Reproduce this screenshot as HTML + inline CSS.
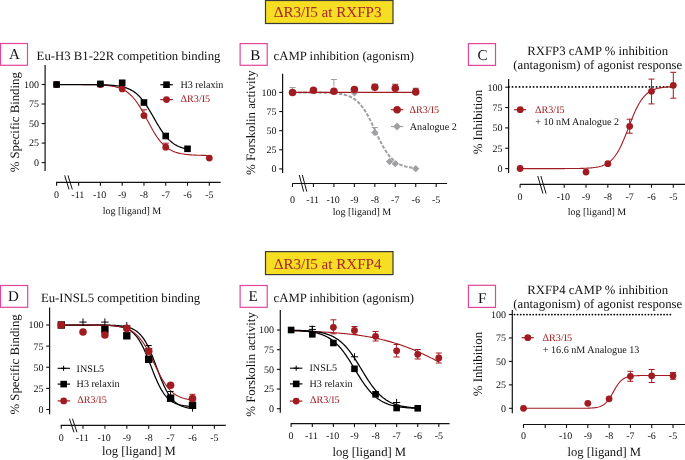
<!DOCTYPE html>
<html><head><meta charset="utf-8"><style>
html,body{margin:0;padding:0;background:#fff;width:685px;height:460px;overflow:hidden}
svg{display:block;will-change:transform}
text{font-family:"Liberation Serif",serif;text-rendering:geometricPrecision}
</style></head><body>
<svg width="685" height="460" viewBox="0 0 685 460" font-family="&quot;Liberation Serif&quot;, serif">
<rect width="685" height="460" fill="#fff"/>
<rect x="265.5" y="0.5" width="127.5" height="23.0" fill="#f6de22" stroke="#3a3a3a" stroke-width="1.2"/>
<text x="273.70" y="17.00" font-size="15.1" text-anchor="start" fill="#a8262a" >ΔR3/I5 at RXFP3</text>
<rect x="265.5" y="251.6" width="127.5" height="23.00000000000003" fill="#f6de22" stroke="#3a3a3a" stroke-width="1.2"/>
<text x="273.70" y="268.80" font-size="15.1" text-anchor="start" fill="#a8262a" >ΔR3/I5 at RXFP4</text>
<rect x="0.5" y="43.5" width="27.0" height="21.799999999999997" fill="none" stroke="#e2459a" stroke-width="1.2"/>
<text x="14.50" y="58.60" font-size="15" text-anchor="middle" fill="#111" >A</text>
<text x="36.60" y="60.00" font-size="12.75" text-anchor="start" fill="#111" >Eu-H3 B1-22R competition binding</text>
<line x1="45.10" y1="65.00" x2="45.10" y2="171.00" stroke="#111" stroke-width="1.2" />
<line x1="41.70" y1="162.60" x2="45.10" y2="162.60" stroke="#111" stroke-width="1.1" />
<text x="38.90" y="166.00" font-size="10" text-anchor="end" fill="#111" >0</text>
<line x1="41.70" y1="143.07" x2="45.10" y2="143.07" stroke="#111" stroke-width="1.1" />
<text x="38.90" y="146.47" font-size="10" text-anchor="end" fill="#111" >25</text>
<line x1="41.70" y1="123.55" x2="45.10" y2="123.55" stroke="#111" stroke-width="1.1" />
<text x="38.90" y="126.95" font-size="10" text-anchor="end" fill="#111" >50</text>
<line x1="41.70" y1="104.02" x2="45.10" y2="104.02" stroke="#111" stroke-width="1.1" />
<text x="38.90" y="107.42" font-size="10" text-anchor="end" fill="#111" >75</text>
<line x1="41.70" y1="84.50" x2="45.10" y2="84.50" stroke="#111" stroke-width="1.1" />
<text x="38.90" y="87.90" font-size="10" text-anchor="end" fill="#111" >100</text>
<line x1="56.00" y1="182.30" x2="220.70" y2="182.30" stroke="#111" stroke-width="1.2" />
<line x1="56.60" y1="182.30" x2="56.60" y2="185.70" stroke="#111" stroke-width="1.1" />
<text x="56.60" y="197.80" font-size="10" text-anchor="middle" fill="#111" >0</text>
<line x1="78.62" y1="182.30" x2="78.62" y2="185.70" stroke="#111" stroke-width="1.1" />
<text x="77.82" y="197.80" font-size="10" text-anchor="middle" fill="#111" >-11</text>
<line x1="100.40" y1="182.30" x2="100.40" y2="185.70" stroke="#111" stroke-width="1.1" />
<text x="99.60" y="197.80" font-size="10" text-anchor="middle" fill="#111" >-10</text>
<line x1="122.18" y1="182.30" x2="122.18" y2="185.70" stroke="#111" stroke-width="1.1" />
<text x="122.18" y="197.80" font-size="10" text-anchor="middle" fill="#111" >-9</text>
<line x1="143.96" y1="182.30" x2="143.96" y2="185.70" stroke="#111" stroke-width="1.1" />
<text x="143.96" y="197.80" font-size="10" text-anchor="middle" fill="#111" >-8</text>
<line x1="165.74" y1="182.30" x2="165.74" y2="185.70" stroke="#111" stroke-width="1.1" />
<text x="165.74" y="197.80" font-size="10" text-anchor="middle" fill="#111" >-7</text>
<line x1="187.52" y1="182.30" x2="187.52" y2="185.70" stroke="#111" stroke-width="1.1" />
<text x="187.52" y="197.80" font-size="10" text-anchor="middle" fill="#111" >-6</text>
<line x1="209.30" y1="182.30" x2="209.30" y2="185.70" stroke="#111" stroke-width="1.1" />
<text x="209.30" y="197.80" font-size="10" text-anchor="middle" fill="#111" >-5</text>
<line x1="64.66" y1="175.35" x2="69.04" y2="189.45" stroke="#111" stroke-width="1.0" />
<line x1="67.96" y1="175.35" x2="72.34" y2="189.45" stroke="#111" stroke-width="1.0" />
<text x="132.00" y="214.10" font-size="10" text-anchor="middle" fill="#111" >log [ligand] M</text>
<text transform="translate(19.2,122.25) rotate(-90)" font-size="12.8" text-anchor="middle" fill="#111">% Specific Binding</text>
<polyline points="56.84,84.51 57.79,84.51 58.75,84.51 59.70,84.51 60.65,84.51 61.60,84.51 62.56,84.51 63.51,84.51 64.46,84.51 65.42,84.51 66.37,84.51 67.32,84.52 68.27,84.52 69.23,84.52 70.18,84.52 71.13,84.52 72.09,84.53 73.04,84.53 73.99,84.53 74.94,84.53 75.90,84.54 76.85,84.54 77.80,84.55 78.76,84.55 79.71,84.56 80.66,84.56 81.61,84.57 82.57,84.58 83.52,84.58 84.47,84.59 85.43,84.60 86.38,84.61 87.33,84.63 88.28,84.64 89.24,84.65 90.19,84.67 91.14,84.69 92.10,84.71 93.05,84.73 94.00,84.75 94.96,84.78 95.91,84.81 96.86,84.84 97.81,84.88 98.77,84.92 99.72,84.97 100.67,85.01 101.63,85.07 102.58,85.13 103.53,85.19 104.48,85.27 105.44,85.35 106.39,85.44 107.34,85.53 108.30,85.64 109.25,85.76 110.20,85.89 111.15,86.03 112.11,86.19 113.06,86.37 114.01,86.56 114.97,86.77 115.92,87.00 116.87,87.26 117.82,87.54 118.78,87.85 119.73,88.18 120.68,88.55 121.64,88.95 122.59,89.39 123.54,89.87 124.49,90.39 125.45,90.96 126.40,91.58 127.35,92.25 128.31,92.97 129.26,93.75 130.21,94.59 131.16,95.50 132.12,96.46 133.07,97.50 134.02,98.60 134.98,99.78 135.93,101.02 136.88,102.33 137.83,103.71 138.79,105.16 139.74,106.66 140.69,108.23 141.65,109.85 142.60,111.51 143.55,113.22 144.50,114.96 145.46,116.72 146.41,118.50 147.36,120.29 148.32,122.08 149.27,123.86 150.22,125.61 151.17,127.34 152.13,129.04 153.08,130.69 154.03,132.30 154.99,133.84 155.94,135.33 156.89,136.76 157.84,138.12 158.80,139.41 159.75,140.64 160.70,141.79 161.66,142.87 162.61,143.89 163.56,144.84 164.51,145.73 165.47,146.55 166.42,147.31 167.37,148.02 168.33,148.67 169.28,149.28 170.23,149.83 171.19,150.34 172.14,150.81 173.09,151.24 174.04,151.63 175.00,151.99 175.95,152.32 176.90,152.61 177.86,152.89 178.81,153.14 179.76,153.36 180.71,153.57 181.67,153.75 182.62,153.92 183.57,154.08 184.53,154.22 185.48,154.35 186.43,154.46 187.38,154.57 188.34,154.66 189.29,154.75 190.24,154.83 191.20,154.90 192.15,154.96 193.10,155.02 194.05,155.07 195.01,155.12 195.96,155.16 196.91,155.20 197.87,155.24 198.82,155.27 199.77,155.30 200.72,155.32 201.68,155.35 202.63,155.37 203.58,155.39 204.54,155.41 205.49,155.42 206.44,155.44 207.39,155.45 208.35,155.46 209.30,155.47" fill="none" stroke="#a11c20" stroke-width="1.1"/>
<polyline points="56.84,84.50 57.66,84.50 58.47,84.50 59.29,84.50 60.11,84.50 60.92,84.50 61.74,84.50 62.56,84.50 63.37,84.50 64.19,84.51 65.01,84.51 65.82,84.51 66.64,84.51 67.46,84.51 68.27,84.51 69.09,84.51 69.91,84.51 70.72,84.51 71.54,84.51 72.36,84.51 73.18,84.51 73.99,84.51 74.81,84.52 75.63,84.52 76.44,84.52 77.26,84.52 78.08,84.52 78.89,84.52 79.71,84.53 80.53,84.53 81.34,84.53 82.16,84.53 82.98,84.54 83.79,84.54 84.61,84.54 85.43,84.55 86.24,84.55 87.06,84.56 87.88,84.56 88.69,84.57 89.51,84.57 90.33,84.58 91.14,84.59 91.96,84.60 92.78,84.61 93.59,84.61 94.41,84.62 95.23,84.64 96.04,84.65 96.86,84.66 97.68,84.68 98.49,84.69 99.31,84.71 100.13,84.73 100.94,84.75 101.76,84.77 102.58,84.80 103.39,84.82 104.21,84.85 105.03,84.88 105.84,84.92 106.66,84.95 107.48,84.99 108.30,85.04 109.11,85.09 109.93,85.14 110.75,85.20 111.56,85.26 112.38,85.33 113.20,85.40 114.01,85.48 114.83,85.57 115.65,85.66 116.46,85.76 117.28,85.87 118.10,86.00 118.91,86.13 119.73,86.27 120.55,86.42 121.36,86.59 122.18,86.77 123.00,86.97 123.81,87.19 124.63,87.42 125.45,87.67 126.26,87.94 127.08,88.23 127.90,88.55 128.71,88.89 129.53,89.26 130.35,89.65 131.16,90.08 131.98,90.53 132.80,91.03 133.61,91.55 134.43,92.11 135.25,92.72 136.06,93.36 136.88,94.04 137.70,94.77 138.52,95.54 139.33,96.36 140.15,97.22 140.97,98.14 141.78,99.10 142.60,100.10 143.42,101.16 144.23,102.26 145.05,103.40 145.87,104.59 146.68,105.82 147.50,107.09 148.32,108.39 149.13,109.73 149.95,111.09 150.77,112.48 151.58,113.89 152.40,115.31 153.22,116.74 154.03,118.17 154.85,119.60 155.67,121.02 156.48,122.44 157.30,123.83 158.12,125.20 158.93,126.55 159.75,127.86 160.57,129.14 161.38,130.39 162.20,131.59 163.02,132.75 163.83,133.87 164.65,134.94 165.47,135.96 166.28,136.93 167.10,137.86 167.92,138.74 168.73,139.58 169.55,140.36 170.37,141.10 171.19,141.80 172.00,142.46 172.82,143.07 173.64,143.65 174.45,144.19 175.27,144.69 176.09,145.16 176.90,145.59 177.72,146.00 178.54,146.38 179.35,146.73 180.17,147.05 180.99,147.35 181.80,147.63 182.62,147.89 183.44,148.12 184.25,148.34 185.07,148.55 185.89,148.73 186.70,148.91 187.52,149.07" fill="none" stroke="#000" stroke-width="1.25"/>
<line x1="143.96" y1="109.80" x2="143.96" y2="116.80" stroke="#a11c20" stroke-width="1.0" />
<line x1="140.96" y1="109.80" x2="146.96" y2="109.80" stroke="#a11c20" stroke-width="1.0" />
<line x1="165.74" y1="143.20" x2="165.74" y2="150.20" stroke="#a11c20" stroke-width="1.0" />
<line x1="162.74" y1="143.20" x2="168.74" y2="143.20" stroke="#a11c20" stroke-width="1.0" />
<circle cx="56.60" cy="84.50" r="3.4" fill="#a11c20"/>
<circle cx="100.40" cy="84.50" r="3.4" fill="#a11c20"/>
<circle cx="122.18" cy="88.90" r="3.4" fill="#a11c20"/>
<circle cx="143.96" cy="115.60" r="3.4" fill="#a11c20"/>
<circle cx="165.74" cy="147.20" r="3.4" fill="#a11c20"/>
<circle cx="209.30" cy="158.10" r="3.4" fill="#a11c20"/>
<rect x="53.30" y="81.20" width="6.6" height="6.6" fill="#000"/>
<rect x="97.10" y="80.60" width="6.6" height="6.6" fill="#000"/>
<rect x="118.88" y="79.50" width="6.6" height="6.6" fill="#000"/>
<rect x="140.66" y="99.20" width="6.6" height="6.6" fill="#000"/>
<rect x="162.44" y="132.70" width="6.6" height="6.6" fill="#000"/>
<rect x="184.22" y="145.50" width="6.6" height="6.6" fill="#000"/>
<line x1="160.30" y1="84.70" x2="172.80" y2="84.70" stroke="#000" stroke-width="1.2" />
<rect x="163.20" y="81.40" width="6.6" height="6.6" fill="#000"/>
<text x="180.40" y="88.00" font-size="10.15" text-anchor="start" fill="#111" >H3 relaxin</text>
<line x1="160.30" y1="99.60" x2="172.80" y2="99.60" stroke="#a11c20" stroke-width="1.2" />
<circle cx="166.50" cy="99.60" r="3.4" fill="#a11c20"/>
<text x="180.60" y="101.90" font-size="10.15" text-anchor="start" fill="#a11c20" >ΔR3/I5</text>
<rect x="240.1" y="43.6" width="27.099999999999994" height="21.699999999999996" fill="none" stroke="#e2459a" stroke-width="1.2"/>
<text x="255.30" y="59.60" font-size="15" text-anchor="middle" fill="#111" >B</text>
<text x="273.60" y="60.40" font-size="12.75" text-anchor="start" fill="#111" >cAMP inhibition (agonism)</text>
<line x1="282.60" y1="73.80" x2="282.60" y2="173.00" stroke="#111" stroke-width="1.2" />
<line x1="279.20" y1="168.90" x2="282.60" y2="168.90" stroke="#111" stroke-width="1.1" />
<text x="276.40" y="172.30" font-size="10" text-anchor="end" fill="#111" >0</text>
<line x1="279.20" y1="149.78" x2="282.60" y2="149.78" stroke="#111" stroke-width="1.1" />
<text x="276.40" y="153.18" font-size="10" text-anchor="end" fill="#111" >25</text>
<line x1="279.20" y1="130.65" x2="282.60" y2="130.65" stroke="#111" stroke-width="1.1" />
<text x="276.40" y="134.05" font-size="10" text-anchor="end" fill="#111" >50</text>
<line x1="279.20" y1="111.53" x2="282.60" y2="111.53" stroke="#111" stroke-width="1.1" />
<text x="276.40" y="114.93" font-size="10" text-anchor="end" fill="#111" >75</text>
<line x1="279.20" y1="92.40" x2="282.60" y2="92.40" stroke="#111" stroke-width="1.1" />
<text x="276.40" y="95.80" font-size="10" text-anchor="end" fill="#111" >100</text>
<line x1="292.30" y1="183.50" x2="447.10" y2="183.50" stroke="#111" stroke-width="1.2" />
<line x1="292.50" y1="183.50" x2="292.50" y2="186.90" stroke="#111" stroke-width="1.1" />
<text x="292.50" y="202.70" font-size="10" text-anchor="middle" fill="#111" >0</text>
<line x1="313.44" y1="183.50" x2="313.44" y2="186.90" stroke="#111" stroke-width="1.1" />
<text x="312.64" y="202.70" font-size="10" text-anchor="middle" fill="#111" >-11</text>
<line x1="333.90" y1="183.50" x2="333.90" y2="186.90" stroke="#111" stroke-width="1.1" />
<text x="333.10" y="202.70" font-size="10" text-anchor="middle" fill="#111" >-10</text>
<line x1="354.36" y1="183.50" x2="354.36" y2="186.90" stroke="#111" stroke-width="1.1" />
<text x="354.36" y="202.70" font-size="10" text-anchor="middle" fill="#111" >-9</text>
<line x1="374.82" y1="183.50" x2="374.82" y2="186.90" stroke="#111" stroke-width="1.1" />
<text x="374.82" y="202.70" font-size="10" text-anchor="middle" fill="#111" >-8</text>
<line x1="395.28" y1="183.50" x2="395.28" y2="186.90" stroke="#111" stroke-width="1.1" />
<text x="395.28" y="202.70" font-size="10" text-anchor="middle" fill="#111" >-7</text>
<line x1="415.74" y1="183.50" x2="415.74" y2="186.90" stroke="#111" stroke-width="1.1" />
<text x="415.74" y="202.70" font-size="10" text-anchor="middle" fill="#111" >-6</text>
<line x1="436.20" y1="183.50" x2="436.20" y2="186.90" stroke="#111" stroke-width="1.1" />
<text x="436.20" y="202.70" font-size="10" text-anchor="middle" fill="#111" >-5</text>
<line x1="299.25" y1="175.00" x2="303.65" y2="191.60" stroke="#111" stroke-width="1.0" />
<line x1="302.35" y1="175.00" x2="306.75" y2="191.60" stroke="#111" stroke-width="1.0" />
<text x="362.00" y="214.80" font-size="10" text-anchor="middle" fill="#111" >log [ligand] M</text>
<text transform="translate(255.4,122.7) rotate(-90)" font-size="12.8" text-anchor="middle" fill="#111">% Forskolin activity</text>
<polyline points="292.98,92.41 293.75,92.41 294.51,92.41 295.28,92.41 296.05,92.41 296.82,92.41 297.58,92.41 298.35,92.41 299.12,92.41 299.89,92.42 300.65,92.42 301.42,92.42 302.19,92.42 302.95,92.42 303.72,92.42 304.49,92.43 305.26,92.43 306.02,92.43 306.79,92.43 307.56,92.44 308.32,92.44 309.09,92.44 309.86,92.45 310.63,92.45 311.39,92.46 312.16,92.46 312.93,92.47 313.70,92.48 314.46,92.48 315.23,92.49 316.00,92.50 316.76,92.51 317.53,92.52 318.30,92.53 319.07,92.54 319.83,92.55 320.60,92.56 321.37,92.58 322.14,92.59 322.90,92.61 323.67,92.63 324.44,92.65 325.20,92.67 325.97,92.70 326.74,92.72 327.51,92.75 328.27,92.79 329.04,92.82 329.81,92.86 330.58,92.90 331.34,92.94 332.11,92.99 332.88,93.05 333.64,93.10 334.41,93.17 335.18,93.23 335.95,93.31 336.71,93.39 337.48,93.48 338.25,93.57 339.01,93.68 339.78,93.79 340.55,93.91 341.32,94.05 342.08,94.19 342.85,94.35 343.62,94.52 344.39,94.71 345.15,94.91 345.92,95.13 346.69,95.36 347.45,95.62 348.22,95.89 348.99,96.19 349.76,96.52 350.52,96.87 351.29,97.24 352.06,97.65 352.83,98.09 353.59,98.56 354.36,99.07 355.13,99.61 355.89,100.20 356.66,100.82 357.43,101.49 358.20,102.21 358.96,102.97 359.73,103.78 360.50,104.64 361.27,105.56 362.03,106.53 362.80,107.55 363.57,108.62 364.33,109.75 365.10,110.94 365.87,112.18 366.64,113.47 367.40,114.82 368.17,116.21 368.94,117.65 369.70,119.13 370.47,120.65 371.24,122.20 372.01,123.79 372.77,125.40 373.54,127.03 374.31,128.67 375.08,130.32 375.84,131.97 376.61,133.62 377.38,135.25 378.14,136.87 378.91,138.47 379.68,140.03 380.45,141.57 381.21,143.07 381.98,144.52 382.75,145.93 383.52,147.30 384.28,148.61 385.05,149.87 385.82,151.08 386.58,152.23 387.35,153.33 388.12,154.37 388.89,155.36 389.65,156.30 390.42,157.18 391.19,158.01 391.96,158.79 392.72,159.53 393.49,160.21 394.26,160.86 395.02,161.46 395.79,162.02 396.56,162.54 397.33,163.03 398.09,163.48 398.86,163.90 399.63,164.29 400.39,164.65 401.16,164.98 401.93,165.29 402.70,165.57 403.46,165.84 404.23,166.08 405.00,166.31 405.77,166.52 406.53,166.71 407.30,166.88 408.07,167.05 408.83,167.20 409.60,167.33 410.37,167.46 411.14,167.58 411.90,167.69 412.67,167.78 413.44,167.88 414.21,167.96 414.97,168.04 415.74,168.11" fill="none" stroke="#a0a0a4" stroke-width="2.0" stroke-dasharray="3.6,1.5"/>
<line x1="292.50" y1="92.40" x2="415.74" y2="92.40" stroke="#a11c20" stroke-width="1.15" />
<line x1="292.50" y1="87.50" x2="292.50" y2="94.50" stroke="#a0a0a4" stroke-width="1.0" />
<line x1="289.50" y1="87.50" x2="295.50" y2="87.50" stroke="#a0a0a4" stroke-width="1.0" />
<line x1="333.90" y1="79.50" x2="333.90" y2="86.50" stroke="#a0a0a4" stroke-width="1.0" />
<line x1="330.90" y1="79.50" x2="336.90" y2="79.50" stroke="#a0a0a4" stroke-width="1.0" />
<line x1="374.82" y1="127.50" x2="374.82" y2="134.50" stroke="#a0a0a4" stroke-width="1.0" />
<line x1="371.82" y1="127.50" x2="377.82" y2="127.50" stroke="#a0a0a4" stroke-width="1.0" />
<path d="M354.36 89.40L357.96 93.00L354.36 96.60L350.76 93.00Z" fill="#a0a0a4"/>
<path d="M374.82 129.00L378.42 132.60L374.82 136.20L371.22 132.60Z" fill="#a0a0a4"/>
<path d="M389.55 158.00L393.15 161.60L389.55 165.20L385.95 161.60Z" fill="#a0a0a4"/>
<path d="M395.28 160.10L398.88 163.70L395.28 167.30L391.68 163.70Z" fill="#a0a0a4"/>
<path d="M415.74 165.10L419.34 168.70L415.74 172.30L412.14 168.70Z" fill="#a0a0a4"/>
<line x1="374.82" y1="84.30" x2="374.82" y2="91.30" stroke="#a11c20" stroke-width="1.0" />
<line x1="371.82" y1="84.30" x2="377.82" y2="84.30" stroke="#a11c20" stroke-width="1.0" />
<line x1="395.28" y1="84.30" x2="395.28" y2="91.30" stroke="#a11c20" stroke-width="1.0" />
<line x1="392.28" y1="84.30" x2="398.28" y2="84.30" stroke="#a11c20" stroke-width="1.0" />
<line x1="415.74" y1="88.30" x2="415.74" y2="95.30" stroke="#a11c20" stroke-width="1.0" />
<line x1="412.74" y1="88.30" x2="418.74" y2="88.30" stroke="#a11c20" stroke-width="1.0" />
<circle cx="292.50" cy="92.40" r="3.75" fill="#a11c20"/>
<circle cx="313.44" cy="90.30" r="3.75" fill="#a11c20"/>
<circle cx="333.90" cy="91.30" r="3.75" fill="#a11c20"/>
<circle cx="354.36" cy="89.40" r="3.75" fill="#a11c20"/>
<circle cx="374.82" cy="87.30" r="3.75" fill="#a11c20"/>
<circle cx="395.28" cy="88.30" r="3.75" fill="#a11c20"/>
<circle cx="415.74" cy="92.00" r="3.75" fill="#a11c20"/>
<line x1="390.90" y1="109.70" x2="403.20" y2="109.70" stroke="#a11c20" stroke-width="1.2" />
<circle cx="397.10" cy="109.70" r="3.75" fill="#a11c20"/>
<text x="409.50" y="112.80" font-size="10.15" text-anchor="start" fill="#a11c20" >ΔR3/I5</text>
<line x1="390.90" y1="126.50" x2="403.20" y2="126.50" stroke="#a0a0a4" stroke-width="1.2" />
<path d="M397.10 122.60L401.00 126.50L397.10 130.40L393.20 126.50Z" fill="#a0a0a4"/>
<text x="409.80" y="129.60" font-size="10.15" text-anchor="start" fill="#111" >Analogue 2</text>
<rect x="468.4" y="43.6" width="27.100000000000023" height="21.800000000000004" fill="none" stroke="#e2459a" stroke-width="1.2"/>
<text x="482.60" y="59.60" font-size="15" text-anchor="middle" fill="#111" >C</text>
<text x="597.70" y="54.50" font-size="12.75" text-anchor="middle" fill="#111" >RXFP3 cAMP % inhibition</text>
<text x="597.70" y="68.50" font-size="12.75" text-anchor="middle" fill="#111" >(antagonism) of agonist response</text>
<line x1="508.60" y1="79.00" x2="508.60" y2="173.00" stroke="#111" stroke-width="1.2" />
<line x1="505.20" y1="168.60" x2="508.60" y2="168.60" stroke="#111" stroke-width="1.1" />
<text x="502.40" y="172.00" font-size="10" text-anchor="end" fill="#111" >0</text>
<line x1="505.20" y1="148.25" x2="508.60" y2="148.25" stroke="#111" stroke-width="1.1" />
<text x="502.40" y="151.65" font-size="10" text-anchor="end" fill="#111" >25</text>
<line x1="505.20" y1="127.90" x2="508.60" y2="127.90" stroke="#111" stroke-width="1.1" />
<text x="502.40" y="131.30" font-size="10" text-anchor="end" fill="#111" >50</text>
<line x1="505.20" y1="107.55" x2="508.60" y2="107.55" stroke="#111" stroke-width="1.1" />
<text x="502.40" y="110.95" font-size="10" text-anchor="end" fill="#111" >75</text>
<line x1="505.20" y1="87.20" x2="508.60" y2="87.20" stroke="#111" stroke-width="1.1" />
<text x="502.40" y="90.60" font-size="10" text-anchor="end" fill="#111" >100</text>
<line x1="520.10" y1="184.30" x2="685.00" y2="184.30" stroke="#111" stroke-width="1.2" />
<line x1="520.10" y1="184.30" x2="520.10" y2="187.70" stroke="#111" stroke-width="1.1" />
<text x="520.10" y="200.00" font-size="10" text-anchor="middle" fill="#111" >0</text>
<line x1="564.20" y1="184.30" x2="564.20" y2="187.70" stroke="#111" stroke-width="1.1" />
<text x="563.40" y="200.00" font-size="10" text-anchor="middle" fill="#111" >-10</text>
<line x1="586.02" y1="184.30" x2="586.02" y2="187.70" stroke="#111" stroke-width="1.1" />
<text x="586.02" y="200.00" font-size="10" text-anchor="middle" fill="#111" >-9</text>
<line x1="607.84" y1="184.30" x2="607.84" y2="187.70" stroke="#111" stroke-width="1.1" />
<text x="607.84" y="200.00" font-size="10" text-anchor="middle" fill="#111" >-8</text>
<line x1="629.66" y1="184.30" x2="629.66" y2="187.70" stroke="#111" stroke-width="1.1" />
<text x="629.66" y="200.00" font-size="10" text-anchor="middle" fill="#111" >-7</text>
<line x1="651.48" y1="184.30" x2="651.48" y2="187.70" stroke="#111" stroke-width="1.1" />
<text x="651.48" y="200.00" font-size="10" text-anchor="middle" fill="#111" >-6</text>
<line x1="673.30" y1="184.30" x2="673.30" y2="187.70" stroke="#111" stroke-width="1.1" />
<text x="673.30" y="200.00" font-size="10" text-anchor="middle" fill="#111" >-5</text>
<line x1="537.75" y1="176.00" x2="542.95" y2="193.60" stroke="#111" stroke-width="1.0" />
<line x1="540.85" y1="176.00" x2="546.05" y2="193.60" stroke="#111" stroke-width="1.0" />
<text x="597.00" y="215.20" font-size="10" text-anchor="middle" fill="#111" >log [ligand] M</text>
<text transform="translate(481.9,122.1) rotate(-90)" font-size="12.8" text-anchor="middle" fill="#111">% Inhibition</text>
<path d="M509.00 86.90h0M512.51 86.90h0M516.03 86.90h0M519.54 86.90h0M523.05 86.90h0M526.57 86.90h0M530.08 86.90h0M533.59 86.90h0M537.10 86.90h0M540.62 86.90h0M544.13 86.90h0M547.64 86.90h0M551.16 86.90h0M554.67 86.90h0M558.18 86.90h0M561.70 86.90h0M565.21 86.90h0M568.72 86.90h0M572.23 86.90h0M575.75 86.90h0M579.26 86.90h0M582.77 86.90h0M586.29 86.90h0M589.80 86.90h0M593.31 86.90h0M596.83 86.90h0M600.34 86.90h0M603.85 86.90h0M607.37 86.90h0M610.88 86.90h0M614.39 86.90h0M617.90 86.90h0M621.42 86.90h0M624.93 86.90h0M628.44 86.90h0M631.96 86.90h0M635.47 86.90h0M638.98 86.90h0M642.50 86.90h0M646.01 86.90h0M649.52 86.90h0M653.03 86.90h0M656.55 86.90h0M660.06 86.90h0M663.57 86.90h0M667.09 86.90h0M670.60 86.90h0" stroke="#000" stroke-width="1.9" stroke-linecap="round" fill="none"/>
<polyline points="520.56,168.60 521.51,168.60 522.47,168.60 523.42,168.60 524.38,168.60 525.33,168.60 526.29,168.60 527.24,168.60 528.20,168.60 529.15,168.60 530.11,168.60 531.06,168.60 532.02,168.60 532.97,168.60 533.92,168.60 534.88,168.60 535.83,168.60 536.79,168.60 537.74,168.60 538.70,168.60 539.65,168.60 540.61,168.60 541.56,168.60 542.52,168.60 543.47,168.60 544.43,168.60 545.38,168.60 546.33,168.60 547.29,168.60 548.24,168.60 549.20,168.60 550.15,168.60 551.11,168.60 552.06,168.59 553.02,168.59 553.97,168.59 554.93,168.59 555.88,168.59 556.84,168.59 557.79,168.59 558.75,168.59 559.70,168.59 560.65,168.58 561.61,168.58 562.56,168.58 563.52,168.58 564.47,168.58 565.43,168.57 566.38,168.57 567.34,168.56 568.29,168.56 569.25,168.56 570.20,168.55 571.16,168.54 572.11,168.54 573.06,168.53 574.02,168.52 574.97,168.51 575.93,168.50 576.88,168.48 577.84,168.47 578.79,168.45 579.75,168.43 580.70,168.41 581.66,168.38 582.61,168.36 583.57,168.33 584.52,168.29 585.47,168.25 586.43,168.21 587.38,168.16 588.34,168.10 589.29,168.04 590.25,167.96 591.20,167.88 592.16,167.79 593.11,167.69 594.07,167.57 595.02,167.44 595.98,167.30 596.93,167.13 597.88,166.95 598.84,166.74 599.79,166.50 600.75,166.24 601.70,165.95 602.66,165.62 603.61,165.25 604.57,164.84 605.52,164.39 606.48,163.88 607.43,163.31 608.39,162.68 609.34,161.98 610.29,161.20 611.25,160.35 612.20,159.41 613.16,158.37 614.11,157.24 615.07,156.00 616.02,154.66 616.98,153.20 617.93,151.63 618.89,149.95 619.84,148.15 620.80,146.24 621.75,144.21 622.70,142.09 623.66,139.87 624.61,137.58 625.57,135.21 626.52,132.79 627.48,130.33 628.43,127.85 629.39,125.37 630.34,122.90 631.30,120.46 632.25,118.08 633.21,115.76 634.16,113.52 635.12,111.37 636.07,109.32 637.02,107.37 637.98,105.54 638.93,103.82 639.89,102.22 640.84,100.73 641.80,99.35 642.75,98.09 643.71,96.93 644.66,95.86 645.62,94.90 646.57,94.02 647.53,93.22 648.48,92.50 649.43,91.85 650.39,91.27 651.34,90.74 652.30,90.27 653.25,89.84 654.21,89.46 655.16,89.13 656.12,88.82 657.07,88.55 658.03,88.31 658.98,88.10 659.94,87.91 660.89,87.74 661.84,87.58 662.80,87.45 663.75,87.33 664.71,87.22 665.66,87.13 666.62,87.05 667.57,86.97 668.53,86.90 669.48,86.85 670.44,86.79 671.39,86.75 672.35,86.71 673.30,86.67" fill="none" stroke="#a11c20" stroke-width="1.1"/>
<line x1="629.66" y1="119.20" x2="629.66" y2="133.20" stroke="#a11c20" stroke-width="1.0" />
<line x1="626.66" y1="119.20" x2="632.66" y2="119.20" stroke="#a11c20" stroke-width="1.0" />
<line x1="626.66" y1="133.20" x2="632.66" y2="133.20" stroke="#a11c20" stroke-width="1.0" />
<line x1="651.48" y1="79.10" x2="651.48" y2="103.90" stroke="#a11c20" stroke-width="1.0" />
<line x1="648.48" y1="79.10" x2="654.48" y2="79.10" stroke="#a11c20" stroke-width="1.0" />
<line x1="648.48" y1="103.90" x2="654.48" y2="103.90" stroke="#a11c20" stroke-width="1.0" />
<line x1="673.30" y1="72.30" x2="673.30" y2="98.20" stroke="#a11c20" stroke-width="1.0" />
<line x1="670.30" y1="72.30" x2="676.30" y2="72.30" stroke="#a11c20" stroke-width="1.0" />
<line x1="670.30" y1="98.20" x2="676.30" y2="98.20" stroke="#a11c20" stroke-width="1.0" />
<circle cx="520.10" cy="168.50" r="3.4" fill="#a11c20"/>
<circle cx="586.02" cy="172.10" r="3.4" fill="#a11c20"/>
<circle cx="607.84" cy="163.70" r="3.4" fill="#a11c20"/>
<circle cx="629.66" cy="126.30" r="3.4" fill="#a11c20"/>
<circle cx="651.48" cy="91.30" r="3.4" fill="#a11c20"/>
<circle cx="673.30" cy="85.30" r="3.4" fill="#a11c20"/>
<line x1="514.10" y1="109.70" x2="526.10" y2="109.70" stroke="#a11c20" stroke-width="1.2" />
<circle cx="520.20" cy="109.70" r="3.4" fill="#a11c20"/>
<text x="535.00" y="113.00" font-size="10.15" text-anchor="start" fill="#a11c20" >ΔR3/I5</text>
<text x="535.20" y="124.70" font-size="10.15" text-anchor="start" fill="#111" >+ 10 nM Analogue 2</text>
<rect x="0.5" y="285.5" width="27.2" height="21.80000000000001" fill="none" stroke="#e2459a" stroke-width="1.2"/>
<text x="13.50" y="300.90" font-size="15" text-anchor="middle" fill="#111" >D</text>
<text x="40.90" y="301.80" font-size="12.75" text-anchor="start" fill="#111" >Eu-INSL5 competition binding</text>
<line x1="49.60" y1="307.50" x2="49.60" y2="414.30" stroke="#111" stroke-width="1.2" />
<line x1="46.20" y1="409.50" x2="49.60" y2="409.50" stroke="#111" stroke-width="1.1" />
<text x="43.40" y="412.90" font-size="10" text-anchor="end" fill="#111" >0</text>
<line x1="46.20" y1="388.38" x2="49.60" y2="388.38" stroke="#111" stroke-width="1.1" />
<text x="43.40" y="391.77" font-size="10" text-anchor="end" fill="#111" >25</text>
<line x1="46.20" y1="367.25" x2="49.60" y2="367.25" stroke="#111" stroke-width="1.1" />
<text x="43.40" y="370.65" font-size="10" text-anchor="end" fill="#111" >50</text>
<line x1="46.20" y1="346.12" x2="49.60" y2="346.12" stroke="#111" stroke-width="1.1" />
<text x="43.40" y="349.52" font-size="10" text-anchor="end" fill="#111" >75</text>
<line x1="46.20" y1="325.00" x2="49.60" y2="325.00" stroke="#111" stroke-width="1.1" />
<text x="43.40" y="328.40" font-size="10" text-anchor="end" fill="#111" >100</text>
<line x1="60.70" y1="425.30" x2="225.80" y2="425.30" stroke="#111" stroke-width="1.2" />
<line x1="61.30" y1="425.30" x2="61.30" y2="428.70" stroke="#111" stroke-width="1.1" />
<text x="61.30" y="440.80" font-size="10" text-anchor="middle" fill="#111" >0</text>
<line x1="83.00" y1="425.30" x2="83.00" y2="428.70" stroke="#111" stroke-width="1.1" />
<text x="82.20" y="440.80" font-size="10" text-anchor="middle" fill="#111" >-11</text>
<line x1="104.90" y1="425.30" x2="104.90" y2="428.70" stroke="#111" stroke-width="1.1" />
<text x="104.10" y="440.80" font-size="10" text-anchor="middle" fill="#111" >-10</text>
<line x1="126.80" y1="425.30" x2="126.80" y2="428.70" stroke="#111" stroke-width="1.1" />
<text x="126.80" y="440.80" font-size="10" text-anchor="middle" fill="#111" >-9</text>
<line x1="148.70" y1="425.30" x2="148.70" y2="428.70" stroke="#111" stroke-width="1.1" />
<text x="148.70" y="440.80" font-size="10" text-anchor="middle" fill="#111" >-8</text>
<line x1="170.60" y1="425.30" x2="170.60" y2="428.70" stroke="#111" stroke-width="1.1" />
<text x="170.60" y="440.80" font-size="10" text-anchor="middle" fill="#111" >-7</text>
<line x1="192.50" y1="425.30" x2="192.50" y2="428.70" stroke="#111" stroke-width="1.1" />
<text x="192.50" y="440.80" font-size="10" text-anchor="middle" fill="#111" >-6</text>
<line x1="214.40" y1="425.30" x2="214.40" y2="428.70" stroke="#111" stroke-width="1.1" />
<text x="214.40" y="440.80" font-size="10" text-anchor="middle" fill="#111" >-5</text>
<line x1="69.47" y1="418.75" x2="73.93" y2="432.25" stroke="#111" stroke-width="1.0" />
<line x1="72.47" y1="418.75" x2="76.93" y2="432.25" stroke="#111" stroke-width="1.0" />
<text x="138.90" y="455.20" font-size="12.65" text-anchor="middle" fill="#111" >log [ligand] M</text>
<text transform="translate(19.1,364.4) rotate(-90)" font-size="12.8" text-anchor="middle" fill="#111">% Specific Binding</text>
<polyline points="61.10,325.00 61.92,325.00 62.74,325.00 63.56,325.00 64.39,325.00 65.21,325.00 66.03,325.00 66.85,325.00 67.67,325.00 68.49,325.00 69.31,325.00 70.13,325.00 70.95,325.00 71.78,325.00 72.60,325.00 73.42,325.00 74.24,325.00 75.06,325.00 75.88,325.00 76.70,325.00 77.53,325.00 78.35,325.00 79.17,325.00 79.99,325.01 80.81,325.01 81.63,325.01 82.45,325.01 83.27,325.01 84.10,325.01 84.92,325.01 85.74,325.01 86.56,325.01 87.38,325.01 88.20,325.02 89.02,325.02 89.84,325.02 90.66,325.02 91.49,325.02 92.31,325.03 93.13,325.03 93.95,325.03 94.77,325.03 95.59,325.04 96.41,325.04 97.24,325.05 98.06,325.05 98.88,325.06 99.70,325.06 100.52,325.07 101.34,325.08 102.16,325.09 102.98,325.10 103.80,325.11 104.63,325.12 105.45,325.13 106.27,325.15 107.09,325.16 107.91,325.18 108.73,325.20 109.55,325.22 110.38,325.25 111.20,325.27 112.02,325.30 112.84,325.34 113.66,325.37 114.48,325.41 115.30,325.46 116.12,325.51 116.95,325.56 117.77,325.63 118.59,325.69 119.41,325.77 120.23,325.85 121.05,325.94 121.87,326.05 122.69,326.16 123.52,326.28 124.34,326.42 125.16,326.57 125.98,326.74 126.80,326.93 127.62,327.13 128.44,327.36 129.26,327.61 130.09,327.88 130.91,328.19 131.73,328.52 132.55,328.89 133.37,329.29 134.19,329.73 135.01,330.21 135.83,330.74 136.65,331.33 137.48,331.96 138.30,332.65 139.12,333.40 139.94,334.22 140.76,335.11 141.58,336.06 142.40,337.10 143.22,338.21 144.05,339.41 144.87,340.69 145.69,342.06 146.51,343.51 147.33,345.05 148.15,346.68 148.97,348.39 149.80,350.19 150.62,352.06 151.44,354.00 152.26,356.00 153.08,358.06 153.90,360.17 154.72,362.31 155.54,364.48 156.37,366.67 157.19,368.85 158.01,371.03 158.83,373.19 159.65,375.32 160.47,377.41 161.29,379.44 162.11,381.42 162.94,383.33 163.76,385.16 164.58,386.92 165.40,388.59 166.22,390.18 167.04,391.68 167.86,393.09 168.68,394.42 169.50,395.66 170.33,396.82 171.15,397.89 171.97,398.89 172.79,399.82 173.61,400.67 174.43,401.46 175.25,402.18 176.07,402.84 176.90,403.45 177.72,404.01 178.54,404.52 179.36,404.98 180.18,405.40 181.00,405.79 181.82,406.14 182.64,406.46 183.47,406.75 184.29,407.01 185.11,407.25 185.93,407.47 186.75,407.66 187.57,407.84 188.39,408.00 189.21,408.15 190.04,408.28 190.86,408.40 191.68,408.50 192.50,408.60" fill="none" stroke="#000" stroke-width="1.25"/>
<polyline points="61.10,325.00 61.92,325.00 62.74,325.00 63.56,325.00 64.39,325.00 65.21,325.00 66.03,325.00 66.85,325.00 67.67,325.00 68.49,325.00 69.31,325.00 70.13,325.00 70.95,325.00 71.78,325.00 72.60,325.00 73.42,325.00 74.24,325.01 75.06,325.01 75.88,325.01 76.70,325.01 77.53,325.01 78.35,325.01 79.17,325.01 79.99,325.01 80.81,325.01 81.63,325.01 82.45,325.01 83.27,325.02 84.10,325.02 84.92,325.02 85.74,325.02 86.56,325.02 87.38,325.03 88.20,325.03 89.02,325.03 89.84,325.04 90.66,325.04 91.49,325.05 92.31,325.05 93.13,325.06 93.95,325.06 94.77,325.07 95.59,325.08 96.41,325.08 97.24,325.09 98.06,325.10 98.88,325.12 99.70,325.13 100.52,325.14 101.34,325.16 102.16,325.17 102.98,325.19 103.80,325.22 104.63,325.24 105.45,325.26 106.27,325.29 107.09,325.33 107.91,325.36 108.73,325.40 109.55,325.44 110.38,325.49 111.20,325.54 112.02,325.60 112.84,325.67 113.66,325.74 114.48,325.82 115.30,325.91 116.12,326.01 116.95,326.12 117.77,326.24 118.59,326.37 119.41,326.52 120.23,326.68 121.05,326.86 121.87,327.05 122.69,327.27 123.52,327.51 124.34,327.78 125.16,328.07 125.98,328.39 126.80,328.74 127.62,329.13 128.44,329.56 129.26,330.03 130.09,330.54 130.91,331.10 131.73,331.71 132.55,332.37 133.37,333.10 134.19,333.89 135.01,334.74 135.83,335.67 136.65,336.67 137.48,337.74 138.30,338.90 139.12,340.13 139.94,341.46 140.76,342.86 141.58,344.35 142.40,345.92 143.22,347.58 144.05,349.31 144.87,351.12 145.69,353.00 146.51,354.94 147.33,356.93 148.15,358.97 148.97,361.05 149.80,363.16 150.62,365.27 151.44,367.40 152.26,369.51 153.08,371.61 153.90,373.68 154.72,375.70 155.54,377.68 156.37,379.60 157.19,381.46 158.01,383.24 158.83,384.95 159.65,386.58 160.47,388.12 161.29,389.58 162.11,390.96 162.94,392.25 163.76,393.46 164.58,394.59 165.40,395.64 166.22,396.61 167.04,397.52 167.86,398.35 168.68,399.11 169.50,399.82 170.33,400.47 171.15,401.06 171.97,401.60 172.79,402.10 173.61,402.55 174.43,402.97 175.25,403.34 176.07,403.68 176.90,404.00 177.72,404.28 178.54,404.54 179.36,404.77 180.18,404.98 181.00,405.17 181.82,405.34 182.64,405.50 183.47,405.64 184.29,405.77 185.11,405.89 185.93,405.99 186.75,406.09 187.57,406.17 188.39,406.25 189.21,406.32 190.04,406.38 190.86,406.44 191.68,406.49 192.50,406.54" fill="none" stroke="#000" stroke-width="1.25"/>
<polyline points="61.10,325.00 61.92,325.00 62.74,325.00 63.56,325.00 64.39,325.00 65.21,325.00 66.03,325.00 66.85,325.01 67.67,325.01 68.49,325.01 69.31,325.01 70.13,325.01 70.95,325.01 71.78,325.01 72.60,325.01 73.42,325.01 74.24,325.01 75.06,325.01 75.88,325.01 76.70,325.02 77.53,325.02 78.35,325.02 79.17,325.02 79.99,325.02 80.81,325.02 81.63,325.03 82.45,325.03 83.27,325.03 84.10,325.03 84.92,325.04 85.74,325.04 86.56,325.04 87.38,325.05 88.20,325.05 89.02,325.06 89.84,325.06 90.66,325.07 91.49,325.08 92.31,325.08 93.13,325.09 93.95,325.10 94.77,325.11 95.59,325.12 96.41,325.13 97.24,325.14 98.06,325.16 98.88,325.17 99.70,325.19 100.52,325.21 101.34,325.23 102.16,325.25 102.98,325.27 103.80,325.30 104.63,325.33 105.45,325.36 106.27,325.39 107.09,325.43 107.91,325.47 108.73,325.51 109.55,325.56 110.38,325.61 111.20,325.67 112.02,325.73 112.84,325.80 113.66,325.88 114.48,325.96 115.30,326.05 116.12,326.15 116.95,326.26 117.77,326.37 118.59,326.50 119.41,326.64 120.23,326.79 121.05,326.96 121.87,327.14 122.69,327.34 123.52,327.55 124.34,327.78 125.16,328.04 125.98,328.31 126.80,328.61 127.62,328.94 128.44,329.29 129.26,329.67 130.09,330.09 130.91,330.54 131.73,331.02 132.55,331.54 133.37,332.10 134.19,332.71 135.01,333.36 135.83,334.06 136.65,334.81 137.48,335.61 138.30,336.47 139.12,337.38 139.94,338.34 140.76,339.37 141.58,340.46 142.40,341.61 143.22,342.81 144.05,344.08 144.87,345.40 145.69,346.78 146.51,348.22 147.33,349.71 148.15,351.24 148.97,352.82 149.80,354.44 150.62,356.09 151.44,357.77 152.26,359.47 153.08,361.19 153.90,362.91 154.72,364.63 155.54,366.35 156.37,368.05 157.19,369.73 158.01,371.39 158.83,373.01 159.65,374.60 160.47,376.14 161.29,377.63 162.11,379.08 162.94,380.47 163.76,381.80 164.58,383.07 165.40,384.29 166.22,385.44 167.04,386.54 167.86,387.57 168.68,388.55 169.50,389.47 170.33,390.33 171.15,391.14 171.97,391.89 172.79,392.60 173.61,393.26 174.43,393.87 175.25,394.44 176.07,394.96 176.90,395.45 177.72,395.90 178.54,396.32 179.36,396.71 180.18,397.07 181.00,397.39 181.82,397.70 182.64,397.98 183.47,398.23 184.29,398.47 185.11,398.69 185.93,398.88 186.75,399.07 187.57,399.24 188.39,399.39 189.21,399.53 190.04,399.66 190.86,399.78 191.68,399.89 192.50,399.99" fill="none" stroke="#a11c20" stroke-width="1.1"/>
<line x1="170.60" y1="391.50" x2="170.60" y2="398.50" stroke="#000" stroke-width="1.0" />
<line x1="167.60" y1="391.50" x2="173.60" y2="391.50" stroke="#000" stroke-width="1.0" />
<line x1="192.50" y1="411.60" x2="192.50" y2="404.00" stroke="#000" stroke-width="1.0" />
<line x1="192.50" y1="411.60" x2="192.50" y2="411.60" stroke="#000" stroke-width="1.0" />
<line x1="192.50" y1="404.00" x2="192.50" y2="404.00" stroke="#000" stroke-width="1.0" />
<line x1="192.50" y1="394.30" x2="192.50" y2="401.30" stroke="#a11c20" stroke-width="1.0" />
<line x1="189.50" y1="394.30" x2="195.50" y2="394.30" stroke="#a11c20" stroke-width="1.0" />
<line x1="148.70" y1="345.50" x2="148.70" y2="352.50" stroke="#000" stroke-width="1.0" />
<line x1="145.70" y1="345.50" x2="151.70" y2="345.50" stroke="#000" stroke-width="1.0" />
<rect x="57.60" y="321.30" width="7.4" height="7.4" fill="#000"/>
<rect x="101.20" y="325.80" width="7.4" height="7.4" fill="#000"/>
<rect x="123.10" y="332.10" width="7.4" height="7.4" fill="#000"/>
<rect x="145.00" y="355.60" width="7.4" height="7.4" fill="#000"/>
<rect x="166.90" y="394.50" width="7.4" height="7.4" fill="#000"/>
<rect x="188.80" y="401.60" width="7.4" height="7.4" fill="#000"/>
<line x1="79.30" y1="322.10" x2="86.70" y2="322.10" stroke="#000" stroke-width="1.0" />
<line x1="83.00" y1="318.40" x2="83.00" y2="325.80" stroke="#000" stroke-width="1.0" />
<line x1="101.20" y1="322.10" x2="108.60" y2="322.10" stroke="#000" stroke-width="1.0" />
<line x1="104.90" y1="318.40" x2="104.90" y2="325.80" stroke="#000" stroke-width="1.0" />
<line x1="123.10" y1="325.80" x2="130.50" y2="325.80" stroke="#000" stroke-width="1.0" />
<line x1="126.80" y1="322.10" x2="126.80" y2="329.50" stroke="#000" stroke-width="1.0" />
<line x1="145.00" y1="348.80" x2="152.40" y2="348.80" stroke="#000" stroke-width="1.0" />
<line x1="148.70" y1="345.10" x2="148.70" y2="352.50" stroke="#000" stroke-width="1.0" />
<circle cx="61.30" cy="325.00" r="3.8" fill="#a11c20"/>
<circle cx="83.00" cy="332.00" r="3.8" fill="#a11c20"/>
<circle cx="104.90" cy="335.00" r="3.8" fill="#a11c20"/>
<circle cx="126.80" cy="328.40" r="3.8" fill="#a11c20"/>
<circle cx="148.70" cy="351.30" r="3.8" fill="#a11c20"/>
<circle cx="170.60" cy="385.30" r="3.8" fill="#a11c20"/>
<circle cx="192.50" cy="398.60" r="3.8" fill="#a11c20"/>
<line x1="61.00" y1="368.30" x2="66.20" y2="368.30" stroke="#000" stroke-width="1.0" />
<line x1="63.60" y1="365.70" x2="63.60" y2="370.90" stroke="#000" stroke-width="1.0" />
<line x1="57.60" y1="368.30" x2="70.10" y2="368.30" stroke="#000" stroke-width="1.1" />
<text x="76.60" y="371.50" font-size="10.15" text-anchor="start" fill="#111" >INSL5</text>
<line x1="57.60" y1="384.10" x2="70.10" y2="384.10" stroke="#000" stroke-width="1.2" />
<rect x="60.40" y="380.80" width="6.6" height="6.6" fill="#000"/>
<text x="76.60" y="387.20" font-size="10.15" text-anchor="start" fill="#111" >H3 relaxin</text>
<line x1="57.60" y1="400.90" x2="70.10" y2="400.90" stroke="#a11c20" stroke-width="1.2" />
<circle cx="63.70" cy="400.90" r="3.4" fill="#a11c20"/>
<text x="77.20" y="402.80" font-size="10.15" text-anchor="start" fill="#a11c20" >ΔR3/I5</text>
<rect x="240.1" y="285.5" width="27.099999999999994" height="21.80000000000001" fill="none" stroke="#e2459a" stroke-width="1.2"/>
<text x="253.00" y="300.90" font-size="15" text-anchor="middle" fill="#111" >E</text>
<text x="273.60" y="301.90" font-size="12.75" text-anchor="start" fill="#111" >cAMP inhibition (agonism)</text>
<line x1="280.30" y1="310.00" x2="280.30" y2="412.70" stroke="#111" stroke-width="1.2" />
<line x1="276.90" y1="408.70" x2="280.30" y2="408.70" stroke="#111" stroke-width="1.1" />
<text x="274.10" y="412.10" font-size="10" text-anchor="end" fill="#111" >0</text>
<line x1="276.90" y1="389.02" x2="280.30" y2="389.02" stroke="#111" stroke-width="1.1" />
<text x="274.10" y="392.42" font-size="10" text-anchor="end" fill="#111" >25</text>
<line x1="276.90" y1="369.35" x2="280.30" y2="369.35" stroke="#111" stroke-width="1.1" />
<text x="274.10" y="372.75" font-size="10" text-anchor="end" fill="#111" >50</text>
<line x1="276.90" y1="349.68" x2="280.30" y2="349.68" stroke="#111" stroke-width="1.1" />
<text x="274.10" y="353.07" font-size="10" text-anchor="end" fill="#111" >75</text>
<line x1="276.90" y1="330.00" x2="280.30" y2="330.00" stroke="#111" stroke-width="1.1" />
<text x="274.10" y="333.40" font-size="10" text-anchor="end" fill="#111" >100</text>
<line x1="290.70" y1="423.70" x2="449.60" y2="423.70" stroke="#111" stroke-width="1.2" />
<line x1="291.10" y1="423.70" x2="291.10" y2="427.10" stroke="#111" stroke-width="1.1" />
<text x="291.10" y="438.80" font-size="10" text-anchor="middle" fill="#111" >0</text>
<line x1="312.32" y1="423.70" x2="312.32" y2="427.10" stroke="#111" stroke-width="1.1" />
<text x="311.52" y="438.80" font-size="10" text-anchor="middle" fill="#111" >-11</text>
<line x1="333.40" y1="423.70" x2="333.40" y2="427.10" stroke="#111" stroke-width="1.1" />
<text x="332.60" y="438.80" font-size="10" text-anchor="middle" fill="#111" >-10</text>
<line x1="354.48" y1="423.70" x2="354.48" y2="427.10" stroke="#111" stroke-width="1.1" />
<text x="354.48" y="438.80" font-size="10" text-anchor="middle" fill="#111" >-9</text>
<line x1="375.56" y1="423.70" x2="375.56" y2="427.10" stroke="#111" stroke-width="1.1" />
<text x="375.56" y="438.80" font-size="10" text-anchor="middle" fill="#111" >-8</text>
<line x1="396.64" y1="423.70" x2="396.64" y2="427.10" stroke="#111" stroke-width="1.1" />
<text x="396.64" y="438.80" font-size="10" text-anchor="middle" fill="#111" >-7</text>
<line x1="417.72" y1="423.70" x2="417.72" y2="427.10" stroke="#111" stroke-width="1.1" />
<text x="417.72" y="438.80" font-size="10" text-anchor="middle" fill="#111" >-6</text>
<line x1="438.80" y1="423.70" x2="438.80" y2="427.10" stroke="#111" stroke-width="1.1" />
<text x="438.80" y="438.80" font-size="10" text-anchor="middle" fill="#111" >-5</text>
<text x="369.25" y="456.20" font-size="12.65" text-anchor="middle" fill="#111" >log [ligand] M</text>
<text transform="translate(255.2,364.45) rotate(-90)" font-size="12.8" text-anchor="middle" fill="#111">% Forskolin activity</text>
<polyline points="291.24,330.82 292.16,330.84 293.08,330.87 294.01,330.89 294.93,330.91 295.85,330.94 296.77,330.96 297.70,330.99 298.62,331.01 299.54,331.04 300.46,331.07 301.38,331.09 302.31,331.12 303.23,331.15 304.15,331.18 305.07,331.21 306.00,331.24 306.92,331.28 307.84,331.31 308.76,331.34 309.69,331.38 310.61,331.41 311.53,331.45 312.45,331.49 313.37,331.53 314.30,331.57 315.22,331.61 316.14,331.65 317.06,331.69 317.99,331.74 318.91,331.78 319.83,331.83 320.75,331.87 321.67,331.92 322.60,331.97 323.52,332.02 324.44,332.08 325.36,332.13 326.29,332.18 327.21,332.24 328.13,332.30 329.05,332.36 329.97,332.42 330.90,332.48 331.82,332.54 332.74,332.61 333.66,332.68 334.59,332.74 335.51,332.81 336.43,332.89 337.35,332.96 338.27,333.04 339.20,333.11 340.12,333.19 341.04,333.27 341.96,333.36 342.89,333.44 343.81,333.53 344.73,333.62 345.65,333.71 346.57,333.80 347.50,333.90 348.42,334.00 349.34,334.10 350.26,334.20 351.19,334.30 352.11,334.41 353.03,334.52 353.95,334.63 354.88,334.75 355.80,334.87 356.72,334.99 357.64,335.11 358.56,335.24 359.49,335.37 360.41,335.50 361.33,335.64 362.25,335.77 363.18,335.92 364.10,336.06 365.02,336.21 365.94,336.36 366.86,336.51 367.79,336.67 368.71,336.83 369.63,337.00 370.55,337.16 371.48,337.34 372.40,337.51 373.32,337.69 374.24,337.87 375.16,338.06 376.09,338.25 377.01,338.45 377.93,338.65 378.85,338.85 379.78,339.06 380.70,339.27 381.62,339.48 382.54,339.70 383.46,339.93 384.39,340.15 385.31,340.39 386.23,340.62 387.15,340.87 388.08,341.11 389.00,341.36 389.92,341.62 390.84,341.88 391.77,342.14 392.69,342.41 393.61,342.69 394.53,342.97 395.45,343.25 396.38,343.54 397.30,343.84 398.22,344.14 399.14,344.44 400.07,344.75 400.99,345.06 401.91,345.38 402.83,345.71 403.75,346.04 404.68,346.37 405.60,346.71 406.52,347.05 407.44,347.40 408.37,347.76 409.29,348.12 410.21,348.48 411.13,348.85 412.05,349.23 412.98,349.60 413.90,349.99 414.82,350.38 415.74,350.77 416.67,351.17 417.59,351.57 418.51,351.98 419.43,352.39 420.35,352.81 421.28,353.23 422.20,353.66 423.12,354.08 424.04,354.52 424.97,354.96 425.89,355.40 426.81,355.84 427.73,356.29 428.66,356.75 429.58,357.20 430.50,357.66 431.42,358.13 432.34,358.60 433.27,359.07 434.19,359.54 435.11,360.01 436.03,360.49 436.96,360.97 437.88,361.46 438.80,361.94" fill="none" stroke="#a11c20" stroke-width="1.1"/>
<polyline points="291.24,330.21 292.03,330.23 292.82,330.24 293.61,330.26 294.40,330.28 295.19,330.30 295.98,330.32 296.77,330.34 297.56,330.36 298.35,330.39 299.14,330.42 299.94,330.44 300.73,330.47 301.52,330.51 302.31,330.54 303.10,330.58 303.89,330.62 304.68,330.66 305.47,330.70 306.26,330.75 307.05,330.80 307.84,330.86 308.63,330.92 309.42,330.98 310.21,331.04 311.00,331.12 311.79,331.19 312.58,331.27 313.37,331.36 314.16,331.45 314.95,331.55 315.75,331.65 316.54,331.76 317.33,331.88 318.12,332.01 318.91,332.14 319.70,332.28 320.49,332.44 321.28,332.60 322.07,332.77 322.86,332.95 323.65,333.15 324.44,333.36 325.23,333.58 326.02,333.81 326.81,334.06 327.60,334.32 328.39,334.60 329.18,334.90 329.97,335.21 330.76,335.54 331.56,335.90 332.35,336.27 333.14,336.67 333.93,337.08 334.72,337.52 335.51,337.99 336.30,338.48 337.09,338.99 337.88,339.54 338.67,340.11 339.46,340.71 340.25,341.34 341.04,342.00 341.83,342.69 342.62,343.41 343.41,344.17 344.20,344.96 344.99,345.78 345.78,346.64 346.57,347.53 347.37,348.45 348.16,349.41 348.95,350.39 349.74,351.41 350.53,352.47 351.32,353.55 352.11,354.66 352.90,355.80 353.69,356.97 354.48,358.16 355.27,359.37 356.06,360.60 356.85,361.86 357.64,363.12 358.43,364.41 359.22,365.70 360.01,367.00 360.80,368.30 361.59,369.61 362.38,370.92 363.18,372.22 363.97,373.52 364.76,374.81 365.55,376.09 366.34,377.35 367.13,378.59 367.92,379.82 368.71,381.02 369.50,382.20 370.29,383.36 371.08,384.49 371.87,385.59 372.66,386.66 373.45,387.70 374.24,388.71 375.03,389.68 375.82,390.62 376.61,391.53 377.40,392.41 378.19,393.25 378.99,394.06 379.78,394.84 380.57,395.58 381.36,396.29 382.15,396.97 382.94,397.62 383.73,398.24 384.52,398.82 385.31,399.38 386.10,399.92 386.89,400.42 387.68,400.90 388.47,401.36 389.26,401.79 390.05,402.20 390.84,402.58 391.63,402.95 392.42,403.29 393.21,403.62 394.00,403.92 394.80,404.21 395.59,404.49 396.38,404.74 397.17,404.99 397.96,405.21 398.75,405.43 399.54,405.63 400.33,405.82 401.12,406.00 401.91,406.17 402.70,406.33 403.49,406.47 404.28,406.61 405.07,406.74 405.86,406.87 406.65,406.98 407.44,407.09 408.23,407.19 409.02,407.29 409.81,407.38 410.61,407.46 411.40,407.54 412.19,407.61 412.98,407.68 413.77,407.75 414.56,407.81 415.35,407.86 416.14,407.92 416.93,407.97 417.72,408.01" fill="none" stroke="#000" stroke-width="1.25"/>
<polyline points="291.24,330.37 292.03,330.40 292.82,330.42 293.61,330.45 294.40,330.48 295.19,330.52 295.98,330.55 296.77,330.59 297.56,330.63 298.35,330.67 299.14,330.72 299.94,330.77 300.73,330.82 301.52,330.87 302.31,330.93 303.10,331.00 303.89,331.06 304.68,331.14 305.47,331.21 306.26,331.29 307.05,331.38 307.84,331.47 308.63,331.57 309.42,331.68 310.21,331.79 311.00,331.91 311.79,332.04 312.58,332.18 313.37,332.32 314.16,332.48 314.95,332.64 315.75,332.82 316.54,333.00 317.33,333.20 318.12,333.41 318.91,333.64 319.70,333.87 320.49,334.13 321.28,334.39 322.07,334.68 322.86,334.98 323.65,335.30 324.44,335.64 325.23,336.00 326.02,336.37 326.81,336.77 327.60,337.20 328.39,337.64 329.18,338.12 329.97,338.61 330.76,339.14 331.56,339.69 332.35,340.27 333.14,340.87 333.93,341.51 334.72,342.18 335.51,342.88 336.30,343.61 337.09,344.38 337.88,345.18 338.67,346.01 339.46,346.87 340.25,347.77 341.04,348.70 341.83,349.67 342.62,350.66 343.41,351.69 344.20,352.75 344.99,353.84 345.78,354.96 346.57,356.11 347.37,357.28 348.16,358.48 348.95,359.70 349.74,360.94 350.53,362.19 351.32,363.46 352.11,364.75 352.90,366.04 353.69,367.35 354.48,368.65 355.27,369.96 356.06,371.27 356.85,372.57 357.64,373.86 358.43,375.15 359.22,376.42 360.01,377.68 360.80,378.92 361.59,380.14 362.38,381.34 363.18,382.51 363.97,383.66 364.76,384.78 365.55,385.88 366.34,386.94 367.13,387.97 367.92,388.97 368.71,389.94 369.50,390.87 370.29,391.77 371.08,392.64 371.87,393.47 372.66,394.27 373.45,395.04 374.24,395.77 375.03,396.47 375.82,397.14 376.61,397.78 377.40,398.39 378.19,398.98 378.99,399.53 379.78,400.05 380.57,400.55 381.36,401.03 382.15,401.47 382.94,401.90 383.73,402.30 384.52,402.68 385.31,403.04 386.10,403.38 386.89,403.70 387.68,404.00 388.47,404.29 389.26,404.56 390.05,404.81 390.84,405.05 391.63,405.27 392.42,405.48 393.21,405.68 394.00,405.87 394.80,406.05 395.59,406.21 396.38,406.37 397.17,406.51 397.96,406.65 398.75,406.78 399.54,406.90 400.33,407.01 401.12,407.12 401.91,407.22 402.70,407.31 403.49,407.40 404.28,407.48 405.07,407.56 405.86,407.63 406.65,407.70 407.44,407.76 408.23,407.82 409.02,407.88 409.81,407.93 410.61,407.98 411.40,408.03 412.19,408.07 412.98,408.11 413.77,408.15 414.56,408.18 415.35,408.22 416.14,408.25 416.93,408.28 417.72,408.30" fill="none" stroke="#000" stroke-width="1.25"/>
<line x1="312.32" y1="326.40" x2="312.32" y2="333.40" stroke="#000" stroke-width="1.0" />
<line x1="309.32" y1="326.40" x2="315.32" y2="326.40" stroke="#000" stroke-width="1.0" />
<line x1="308.72" y1="329.40" x2="315.92" y2="329.40" stroke="#000" stroke-width="1.0" />
<line x1="312.32" y1="325.80" x2="312.32" y2="333.00" stroke="#000" stroke-width="1.0" />
<line x1="350.88" y1="356.80" x2="358.08" y2="356.80" stroke="#000" stroke-width="1.0" />
<line x1="354.48" y1="353.20" x2="354.48" y2="360.40" stroke="#000" stroke-width="1.0" />
<line x1="393.04" y1="402.50" x2="400.24" y2="402.50" stroke="#000" stroke-width="1.0" />
<line x1="396.64" y1="398.90" x2="396.64" y2="406.10" stroke="#000" stroke-width="1.0" />
<rect x="287.80" y="326.70" width="6.6" height="6.6" fill="#000"/>
<rect x="309.02" y="331.00" width="6.6" height="6.6" fill="#000"/>
<rect x="330.10" y="339.70" width="6.6" height="6.6" fill="#000"/>
<rect x="351.18" y="365.50" width="6.6" height="6.6" fill="#000"/>
<rect x="372.26" y="391.00" width="6.6" height="6.6" fill="#000"/>
<rect x="393.34" y="404.70" width="6.6" height="6.6" fill="#000"/>
<rect x="414.42" y="405.00" width="6.6" height="6.6" fill="#000"/>
<line x1="333.40" y1="319.80" x2="333.40" y2="333.80" stroke="#a11c20" stroke-width="1.0" />
<line x1="330.40" y1="319.80" x2="336.40" y2="319.80" stroke="#a11c20" stroke-width="1.0" />
<line x1="330.40" y1="333.80" x2="336.40" y2="333.80" stroke="#a11c20" stroke-width="1.0" />
<line x1="354.48" y1="326.50" x2="354.48" y2="334.50" stroke="#a11c20" stroke-width="1.0" />
<line x1="351.48" y1="326.50" x2="357.48" y2="326.50" stroke="#a11c20" stroke-width="1.0" />
<line x1="351.48" y1="334.50" x2="357.48" y2="334.50" stroke="#a11c20" stroke-width="1.0" />
<line x1="375.56" y1="331.50" x2="375.56" y2="341.00" stroke="#a11c20" stroke-width="1.0" />
<line x1="372.56" y1="331.50" x2="378.56" y2="331.50" stroke="#a11c20" stroke-width="1.0" />
<line x1="372.56" y1="341.00" x2="378.56" y2="341.00" stroke="#a11c20" stroke-width="1.0" />
<line x1="396.64" y1="344.50" x2="396.64" y2="357.00" stroke="#a11c20" stroke-width="1.0" />
<line x1="393.64" y1="344.50" x2="399.64" y2="344.50" stroke="#a11c20" stroke-width="1.0" />
<line x1="393.64" y1="357.00" x2="399.64" y2="357.00" stroke="#a11c20" stroke-width="1.0" />
<line x1="417.72" y1="349.50" x2="417.72" y2="359.00" stroke="#a11c20" stroke-width="1.0" />
<line x1="414.72" y1="349.50" x2="420.72" y2="349.50" stroke="#a11c20" stroke-width="1.0" />
<line x1="414.72" y1="359.00" x2="420.72" y2="359.00" stroke="#a11c20" stroke-width="1.0" />
<line x1="438.80" y1="353.00" x2="438.80" y2="363.00" stroke="#a11c20" stroke-width="1.0" />
<line x1="435.80" y1="353.00" x2="441.80" y2="353.00" stroke="#a11c20" stroke-width="1.0" />
<line x1="435.80" y1="363.00" x2="441.80" y2="363.00" stroke="#a11c20" stroke-width="1.0" />
<circle cx="333.40" cy="327.30" r="3.4" fill="#a11c20"/>
<circle cx="354.48" cy="330.50" r="3.4" fill="#a11c20"/>
<circle cx="375.56" cy="336.30" r="3.4" fill="#a11c20"/>
<circle cx="396.64" cy="350.80" r="3.4" fill="#a11c20"/>
<circle cx="417.72" cy="354.30" r="3.4" fill="#a11c20"/>
<circle cx="438.80" cy="358.00" r="3.4" fill="#a11c20"/>
<line x1="293.60" y1="368.20" x2="298.80" y2="368.20" stroke="#000" stroke-width="1.0" />
<line x1="296.20" y1="365.60" x2="296.20" y2="370.80" stroke="#000" stroke-width="1.0" />
<line x1="289.90" y1="368.20" x2="302.40" y2="368.20" stroke="#000" stroke-width="1.1" />
<text x="309.50" y="371.40" font-size="10.15" text-anchor="start" fill="#111" >INSL5</text>
<line x1="289.90" y1="383.90" x2="302.40" y2="383.90" stroke="#000" stroke-width="1.2" />
<rect x="292.90" y="380.60" width="6.6" height="6.6" fill="#000"/>
<text x="309.50" y="387.00" font-size="10.15" text-anchor="start" fill="#111" >H3 relaxin</text>
<line x1="289.90" y1="401.10" x2="302.40" y2="401.10" stroke="#a11c20" stroke-width="1.2" />
<circle cx="296.20" cy="401.10" r="3.4" fill="#a11c20"/>
<text x="310.00" y="402.60" font-size="10.15" text-anchor="start" fill="#a11c20" >ΔR3/I5</text>
<rect x="468.4" y="285.3" width="27.100000000000023" height="22.099999999999966" fill="none" stroke="#e2459a" stroke-width="1.2"/>
<text x="482.20" y="302.50" font-size="15" text-anchor="middle" fill="#111" >F</text>
<text x="597.70" y="294.10" font-size="12.75" text-anchor="middle" fill="#111" >RXFP4 cAMP % inhibition</text>
<text x="597.70" y="308.40" font-size="12.75" text-anchor="middle" fill="#111" >(antagonism) of agonist response</text>
<line x1="512.30" y1="310.00" x2="512.30" y2="413.30" stroke="#111" stroke-width="1.2" />
<line x1="508.90" y1="408.30" x2="512.30" y2="408.30" stroke="#111" stroke-width="1.1" />
<text x="506.10" y="411.70" font-size="10" text-anchor="end" fill="#111" >0</text>
<line x1="508.90" y1="384.85" x2="512.30" y2="384.85" stroke="#111" stroke-width="1.1" />
<text x="506.10" y="388.25" font-size="10" text-anchor="end" fill="#111" >25</text>
<line x1="508.90" y1="361.40" x2="512.30" y2="361.40" stroke="#111" stroke-width="1.1" />
<text x="506.10" y="364.80" font-size="10" text-anchor="end" fill="#111" >50</text>
<line x1="508.90" y1="337.95" x2="512.30" y2="337.95" stroke="#111" stroke-width="1.1" />
<text x="506.10" y="341.35" font-size="10" text-anchor="end" fill="#111" >75</text>
<line x1="508.90" y1="314.50" x2="512.30" y2="314.50" stroke="#111" stroke-width="1.1" />
<text x="506.10" y="317.90" font-size="10" text-anchor="end" fill="#111" >100</text>
<line x1="523.10" y1="424.50" x2="685.00" y2="424.50" stroke="#111" stroke-width="1.2" />
<line x1="523.50" y1="424.50" x2="523.50" y2="427.90" stroke="#111" stroke-width="1.1" />
<text x="523.50" y="439.40" font-size="10" text-anchor="middle" fill="#111" >0</text>
<line x1="545.20" y1="424.50" x2="545.20" y2="427.90" stroke="#111" stroke-width="1.1" />
<line x1="566.50" y1="424.50" x2="566.50" y2="427.90" stroke="#111" stroke-width="1.1" />
<text x="565.70" y="439.40" font-size="10" text-anchor="middle" fill="#111" >-10</text>
<line x1="587.80" y1="424.50" x2="587.80" y2="427.90" stroke="#111" stroke-width="1.1" />
<text x="587.80" y="439.40" font-size="10" text-anchor="middle" fill="#111" >-9</text>
<line x1="609.10" y1="424.50" x2="609.10" y2="427.90" stroke="#111" stroke-width="1.1" />
<text x="609.10" y="439.40" font-size="10" text-anchor="middle" fill="#111" >-8</text>
<line x1="630.40" y1="424.50" x2="630.40" y2="427.90" stroke="#111" stroke-width="1.1" />
<text x="630.40" y="439.40" font-size="10" text-anchor="middle" fill="#111" >-7</text>
<line x1="651.70" y1="424.50" x2="651.70" y2="427.90" stroke="#111" stroke-width="1.1" />
<text x="651.70" y="439.40" font-size="10" text-anchor="middle" fill="#111" >-6</text>
<line x1="673.00" y1="424.50" x2="673.00" y2="427.90" stroke="#111" stroke-width="1.1" />
<text x="673.00" y="439.40" font-size="10" text-anchor="middle" fill="#111" >-5</text>
<text x="604.25" y="456.20" font-size="12.65" text-anchor="middle" fill="#111" >log [ligand] M</text>
<text transform="translate(481.7,364.05) rotate(-90)" font-size="12.8" text-anchor="middle" fill="#111">% Inhibition</text>
<path d="M514.50 314.60h0M517.62 314.60h0M520.73 314.60h0M523.85 314.60h0M526.96 314.60h0M530.08 314.60h0M533.20 314.60h0M536.31 314.60h0M539.43 314.60h0M542.54 314.60h0M545.66 314.60h0M548.78 314.60h0M551.89 314.60h0M555.01 314.60h0M558.12 314.60h0M561.24 314.60h0M564.36 314.60h0M567.47 314.60h0M570.59 314.60h0M573.70 314.60h0M576.82 314.60h0M579.94 314.60h0M583.05 314.60h0M586.17 314.60h0M589.28 314.60h0M592.40 314.60h0M595.52 314.60h0M598.63 314.60h0M601.75 314.60h0M604.86 314.60h0M607.98 314.60h0M611.10 314.60h0M614.21 314.60h0M617.33 314.60h0M620.44 314.60h0M623.56 314.60h0M626.68 314.60h0M629.79 314.60h0M632.91 314.60h0M636.02 314.60h0M639.14 314.60h0M642.26 314.60h0M645.37 314.60h0M648.49 314.60h0M651.60 314.60h0M654.72 314.60h0M657.84 314.60h0M660.95 314.60h0M664.07 314.60h0M667.18 314.60h0M670.30 314.60h0" stroke="#000" stroke-width="1.9" stroke-linecap="round" fill="none"/>
<polyline points="523.90,408.30 524.83,408.30 525.76,408.30 526.70,408.30 527.63,408.30 528.56,408.30 529.49,408.30 530.42,408.30 531.36,408.30 532.29,408.30 533.22,408.30 534.15,408.30 535.08,408.30 536.01,408.30 536.95,408.30 537.88,408.30 538.81,408.30 539.74,408.30 540.67,408.30 541.61,408.30 542.54,408.30 543.47,408.30 544.40,408.30 545.33,408.30 546.26,408.30 547.20,408.30 548.13,408.30 549.06,408.30 549.99,408.30 550.92,408.30 551.86,408.30 552.79,408.30 553.72,408.30 554.65,408.30 555.58,408.30 556.52,408.30 557.45,408.30 558.38,408.30 559.31,408.30 560.24,408.30 561.17,408.30 562.11,408.30 563.04,408.30 563.97,408.30 564.90,408.30 565.83,408.30 566.77,408.30 567.70,408.30 568.63,408.30 569.56,408.30 570.49,408.30 571.43,408.30 572.36,408.30 573.29,408.29 574.22,408.29 575.15,408.29 576.09,408.29 577.02,408.29 577.95,408.28 578.88,408.28 579.81,408.28 580.74,408.27 581.68,408.27 582.61,408.26 583.54,408.25 584.47,408.24 585.40,408.22 586.34,408.21 587.27,408.18 588.20,408.16 589.13,408.13 590.06,408.09 591.00,408.04 591.93,407.98 592.86,407.91 593.79,407.83 594.72,407.73 595.65,407.60 596.59,407.45 597.52,407.27 598.45,407.04 599.38,406.78 600.31,406.45 601.25,406.07 602.18,405.61 603.11,405.07 604.04,404.44 604.97,403.70 605.90,402.84 606.84,401.86 607.77,400.75 608.70,399.52 609.63,398.16 610.56,396.70 611.50,395.15 612.43,393.53 613.36,391.88 614.29,390.24 615.22,388.62 616.16,387.07 617.09,385.61 618.02,384.25 618.95,383.02 619.88,381.91 620.82,380.93 621.75,380.07 622.68,379.33 623.61,378.70 624.54,378.16 625.47,377.70 626.41,377.32 627.34,376.99 628.27,376.73 629.20,376.50 630.13,376.32 631.07,376.17 632.00,376.04 632.93,375.94 633.86,375.86 634.79,375.79 635.73,375.73 636.66,375.68 637.59,375.64 638.52,375.61 639.45,375.59 640.38,375.56 641.32,375.55 642.25,375.53 643.18,375.52 644.11,375.51 645.04,375.50 645.98,375.50 646.91,375.49 647.84,375.49 648.77,375.49 649.70,375.48 650.63,375.48 651.57,375.48 652.50,375.48 653.43,375.48 654.36,375.47 655.29,375.47 656.23,375.47 657.16,375.47 658.09,375.47 659.02,375.47 659.95,375.47 660.89,375.47 661.82,375.47 662.75,375.47 663.68,375.47 664.61,375.47 665.55,375.47 666.48,375.47 667.41,375.47 668.34,375.47 669.27,375.47 670.20,375.47 671.14,375.47 672.07,375.47 673.00,375.47" fill="none" stroke="#a11c20" stroke-width="1.1"/>
<line x1="630.40" y1="371.30" x2="630.40" y2="381.30" stroke="#a11c20" stroke-width="1.0" />
<line x1="627.40" y1="371.30" x2="633.40" y2="371.30" stroke="#a11c20" stroke-width="1.0" />
<line x1="627.40" y1="381.30" x2="633.40" y2="381.30" stroke="#a11c20" stroke-width="1.0" />
<line x1="651.70" y1="369.50" x2="651.70" y2="382.50" stroke="#a11c20" stroke-width="1.0" />
<line x1="648.70" y1="369.50" x2="654.70" y2="369.50" stroke="#a11c20" stroke-width="1.0" />
<line x1="648.70" y1="382.50" x2="654.70" y2="382.50" stroke="#a11c20" stroke-width="1.0" />
<line x1="673.00" y1="372.50" x2="673.00" y2="379.30" stroke="#a11c20" stroke-width="1.0" />
<line x1="670.00" y1="372.50" x2="676.00" y2="372.50" stroke="#a11c20" stroke-width="1.0" />
<line x1="670.00" y1="379.30" x2="676.00" y2="379.30" stroke="#a11c20" stroke-width="1.0" />
<circle cx="523.50" cy="408.30" r="3.4" fill="#a11c20"/>
<circle cx="587.80" cy="403.30" r="3.4" fill="#a11c20"/>
<circle cx="609.10" cy="398.80" r="3.4" fill="#a11c20"/>
<circle cx="630.40" cy="376.30" r="3.4" fill="#a11c20"/>
<circle cx="651.70" cy="375.80" r="3.4" fill="#a11c20"/>
<circle cx="673.00" cy="375.80" r="3.4" fill="#a11c20"/>
<line x1="521.60" y1="337.70" x2="533.90" y2="337.70" stroke="#a11c20" stroke-width="1.2" />
<circle cx="527.80" cy="337.70" r="3.4" fill="#a11c20"/>
<text x="542.60" y="341.00" font-size="10.15" text-anchor="start" fill="#a11c20" >ΔR3/I5</text>
<text x="542.80" y="353.00" font-size="10.15" text-anchor="start" fill="#111" >+ 16.6 nM Analogue 13</text>
</svg>
</body></html>
